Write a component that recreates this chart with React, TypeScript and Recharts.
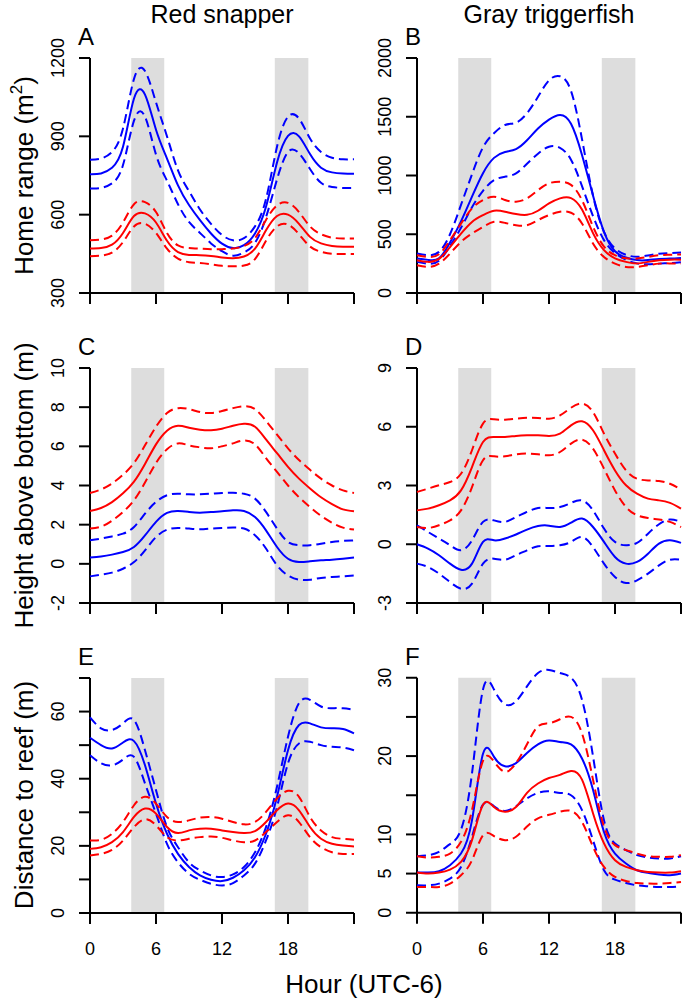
import { LineChart, Line, XAxis, YAxis, ReferenceArea, ReferenceLine } from "recharts"

const FONT = "'Liberation Sans', Arial, Helvetica, sans-serif"
const BLUE = "#0000ff"
const RED = "#ff0000"
const SHADE = "#dddddd"

// hours of the day (UTC-6)
const hours = [0, 1, 2, 3, 4, 5, 6, 7, 8, 9, 10, 11, 12, 13, 14, 15, 16, 17, 18, 19, 20, 21, 22, 23, 24]
const xTicks = [0, 6, 12, 18, 24]
const dawn = [3.75, 6.75]
const dusk = [16.8, 19.85]

// A: red snapper, home range (m^2)
const aBlue = [755, 758, 780, 860, 1045, 1060, 925, 815, 712, 637, 579, 528, 489, 472, 483, 528, 630, 800, 902, 900, 832, 780, 762, 758, 757]
const aBlueUp = [810, 815, 840, 930, 1120, 1150, 1030, 900, 770, 690, 620, 565, 522, 502, 510, 555, 660, 860, 975, 968, 892, 840, 818, 812, 812]
const aBlueLo = [700, 702, 720, 790, 960, 975, 830, 730, 640, 572, 530, 490, 460, 443, 455, 492, 590, 735, 840, 835, 775, 722, 706, 702, 702]
const aRed = [470, 472, 485, 530, 595, 605, 570, 500, 457, 446, 445, 442, 436, 433, 440, 470, 540, 595, 600, 565, 515, 490, 480, 477, 477]
const aRedUp = [502, 505, 520, 570, 640, 648, 610, 530, 482, 472, 470, 468, 468, 470, 480, 510, 580, 635, 645, 610, 555, 525, 512, 509, 509]
const aRedLo = [441, 443, 455, 495, 555, 565, 530, 470, 432, 418, 415, 410, 404, 402, 405, 430, 500, 555, 562, 525, 478, 458, 450, 449, 449]

// B: gray triggerfish, home range (m^2)
const bBlue = [293, 282, 295, 430, 610, 820, 1020, 1150, 1200, 1225, 1300, 1400, 1475, 1515, 1440, 1175, 830, 520, 355, 302, 280, 280, 290, 293, 298]
const bBlueUp = [336, 322, 350, 500, 750, 1010, 1240, 1360, 1430, 1450, 1530, 1670, 1810, 1845, 1720, 1310, 830, 520, 380, 325, 308, 320, 335, 340, 344]
const bBlueLo = [265, 250, 275, 400, 555, 730, 870, 960, 990, 1018, 1100, 1185, 1245, 1235, 1135, 910, 655, 450, 340, 282, 252, 245, 250, 255, 262]
const bRed = [279, 265, 290, 390, 505, 605, 663, 700, 692, 672, 665, 700, 762, 805, 808, 710, 510, 365, 295, 265, 252, 265, 279, 284, 284]
const bRedUp = [322, 307, 330, 449, 590, 720, 790, 820, 792, 777, 805, 875, 933, 947, 920, 790, 565, 395, 322, 295, 293, 307, 322, 325, 328]
const bRedLo = [236, 222, 250, 336, 435, 506, 563, 606, 597, 577, 577, 620, 663, 691, 683, 592, 421, 307, 250, 222, 222, 236, 250, 252, 252]

// C: red snapper, height above bottom (m)
const cBlue = [0.32, 0.38, 0.47, 0.6, 0.86, 1.45, 2.14, 2.6, 2.7, 2.65, 2.61, 2.65, 2.68, 2.73, 2.7, 2.39, 1.71, 0.86, 0.26, 0.09, 0.13, 0.18, 0.21, 0.26, 0.32]
const cBlueUp = [1.2, 1.29, 1.4, 1.54, 1.88, 2.56, 3.16, 3.5, 3.58, 3.55, 3.55, 3.58, 3.62, 3.63, 3.58, 3.33, 2.65, 1.8, 1.12, 0.95, 0.95, 1.03, 1.12, 1.17, 1.2]
const cBlueLo = [-0.64, -0.55, -0.45, -0.25, 0.09, 0.69, 1.37, 1.74, 1.83, 1.8, 1.76, 1.8, 1.83, 1.85, 1.8, 1.46, 0.78, -0.08, -0.59, -0.81, -0.81, -0.72, -0.67, -0.64, -0.6]
const cRed = [2.7, 2.85, 3.15, 3.6, 4.2, 5.1, 6.1, 6.8, 7.05, 6.95, 6.85, 6.82, 6.9, 7.05, 7.15, 7.0, 6.35, 5.65, 4.95, 4.35, 3.85, 3.4, 3.05, 2.78, 2.68]
const cRedUp = [3.62, 3.8, 4.1, 4.55, 5.15, 6.05, 7.0, 7.7, 7.95, 7.9, 7.75, 7.7, 7.8, 7.95, 8.05, 7.9, 7.3, 6.6, 5.9, 5.3, 4.8, 4.35, 4.0, 3.75, 3.62]
const cRedLo = [1.8, 1.9, 2.2, 2.65, 3.25, 4.15, 5.15, 5.85, 6.15, 6.05, 5.95, 5.9, 6.0, 6.15, 6.3, 6.1, 5.4, 4.7, 4.0, 3.4, 2.9, 2.45, 2.1, 1.85, 1.75]

// D: gray triggerfish, height above bottom (m)
const dBlue = [0.0, -0.22, -0.56, -0.99, -1.3, -0.99, 0.12, 0.2, 0.29, 0.5, 0.75, 0.93, 0.95, 0.88, 1.1, 1.31, 0.88, 0.12, -0.65, -0.99, -0.9, -0.48, 0.03, 0.2, 0.07]
const dBlueUp = [0.97, 0.63, 0.29, -0.05, -0.31, 0.2, 1.14, 1.22, 1.14, 1.39, 1.65, 1.85, 1.85, 1.9, 2.11, 2.24, 1.73, 0.8, 0.12, -0.05, 0.07, 0.54, 1.02, 1.26, 1.14]
const dBlueLo = [-0.99, -1.16, -1.5, -1.93, -2.27, -2.01, -0.99, -0.74, -0.79, -0.56, -0.31, -0.1, -0.09, -0.05, 0.12, 0.37, -0.14, -0.99, -1.67, -1.98, -1.84, -1.5, -1.08, -0.79, -0.79]
const dRed = [1.73, 1.82, 1.99, 2.24, 2.75, 3.94, 5.22, 5.48, 5.48, 5.53, 5.56, 5.56, 5.53, 5.65, 6.07, 6.28, 5.82, 4.8, 3.77, 3.01, 2.58, 2.33, 2.24, 2.11, 1.82]
const dRedUp = [2.67, 2.84, 3.01, 3.18, 3.6, 4.8, 6.16, 6.38, 6.36, 6.41, 6.46, 6.45, 6.41, 6.58, 6.97, 7.18, 6.75, 5.65, 4.63, 3.77, 3.35, 3.26, 3.23, 3.09, 2.79]
const dRedLo = [0.88, 0.83, 0.97, 1.22, 1.73, 2.92, 4.29, 4.49, 4.49, 4.59, 4.63, 4.59, 4.54, 4.71, 5.14, 5.34, 4.88, 3.86, 2.75, 1.9, 1.48, 1.34, 1.26, 1.14, 0.88]

// E: red snapper, distance to reef (m)
const eBlue = [52.2, 50.0, 49.0, 50.8, 51.2, 44.0, 32.6, 23.6, 17.6, 13.7, 11.2, 9.9, 9.5, 10.5, 12.7, 16.6, 23.6, 34.6, 48.5, 56.0, 56.5, 55.3, 55.0, 54.8, 53.5]
const eBlueUp = [58.3, 55.0, 54.5, 56.5, 57.5, 48.5, 36.6, 25.6, 19.6, 15.1, 12.7, 11.2, 10.7, 11.5, 13.7, 18.1, 25.6, 37.6, 52.5, 62.5, 63.5, 61.5, 61.0, 61.0, 60.5]
const eBlueLo = [47.0, 44.6, 44.0, 45.7, 46.5, 38.6, 29.6, 20.6, 15.1, 11.7, 9.9, 8.7, 8.2, 8.9, 11.2, 14.7, 21.6, 31.6, 44.6, 50.5, 51.0, 50.0, 49.5, 49.3, 48.5]
const eRed = [19.1, 19.6, 21.1, 24.1, 28.6, 31.1, 29.6, 25.6, 23.8, 24.6, 25.1, 25.1, 24.6, 24.1, 23.8, 24.4, 27.1, 30.6, 32.6, 30.6, 25.6, 22.1, 20.6, 20.1, 19.8]
const eRedUp = [21.6, 21.8, 23.6, 27.1, 32.1, 34.6, 32.6, 28.6, 27.1, 27.6, 28.4, 28.6, 28.1, 27.1, 26.4, 27.1, 30.1, 34.1, 36.4, 34.6, 28.6, 24.6, 22.6, 22.1, 21.8]
const eRedLo = [17.1, 17.6, 18.8, 21.6, 25.6, 27.9, 26.1, 22.6, 21.6, 22.1, 22.6, 22.8, 22.4, 21.6, 21.1, 21.6, 24.1, 27.1, 29.1, 27.1, 22.6, 19.6, 18.1, 17.6, 17.6]

// F: gray triggerfish, distance to reef (m)
const fBlue = [5.13, 5.13, 5.3, 6.07, 7.56, 11.8, 20.3, 19.9, 18.7, 19.1, 20.4, 21.5, 22.0, 21.8, 21.5, 19.7, 15.7, 10.3, 7.56, 6.28, 5.43, 5.09, 4.87, 4.79, 5.0]
const fBlueUp = [7.22, 7.35, 7.78, 8.76, 10.6, 17.8, 28.5, 28.5, 26.6, 27.0, 28.9, 30.6, 31.0, 30.6, 30.0, 27.2, 20.0, 11.8, 8.85, 8.0, 7.35, 7.05, 6.92, 6.92, 7.22]
const fBlueLo = [3.5, 3.5, 3.72, 4.36, 5.85, 9.7, 13.8, 13.6, 13.0, 13.6, 14.6, 15.3, 15.5, 15.3, 15.0, 13.1, 9.27, 5.43, 4.23, 3.8, 3.5, 3.38, 3.29, 3.29, 3.38]
const fRed = [5.13, 5.0, 5.13, 5.51, 6.5, 9.27, 13.8, 13.5, 12.9, 13.5, 15.3, 16.5, 17.2, 17.6, 18.1, 17.0, 12.7, 8.85, 6.71, 5.85, 5.43, 5.21, 5.13, 5.13, 5.3]
const fRedUp = [7.22, 7.05, 7.14, 7.56, 9.06, 13.1, 19.4, 19.3, 18.0, 19.1, 21.5, 23.8, 24.2, 24.7, 25.0, 22.9, 17.0, 11.0, 8.63, 8.0, 7.56, 7.22, 7.14, 7.14, 7.35]
const fRedLo = [3.29, 3.29, 3.29, 3.72, 4.79, 6.71, 9.9, 9.79, 9.27, 9.7, 11.0, 12.05, 12.5, 12.9, 13.0, 11.6, 8.42, 5.85, 4.57, 4.06, 3.8, 3.72, 3.72, 3.8, 3.93]

type Panel = {
  letter: string
  col: number
  row: number
  yMin: number
  yMax: number
  yTop: number
  yTicks: number[]
  yBlank: number[]
  series: number[][]
}

const panels: Panel[] = [
  { letter: "A", col: 0, row: 0, yMin: 300, yMax: 1200, yTop: 1200, yTicks: [300, 600, 900, 1200], yBlank: [], series: [aBlue, aBlueUp, aBlueLo, aRed, aRedUp, aRedLo] },
  { letter: "B", col: 1, row: 0, yMin: 0, yMax: 2000, yTop: 2000, yTicks: [0, 500, 1000, 1500, 2000], yBlank: [], series: [bBlue, bBlueUp, bBlueLo, bRed, bRedUp, bRedLo] },
  { letter: "C", col: 0, row: 1, yMin: -2, yMax: 10, yTop: 10, yTicks: [-2, 0, 2, 4, 6, 8, 10], yBlank: [], series: [cBlue, cBlueUp, cBlueLo, cRed, cRedUp, cRedLo] },
  { letter: "D", col: 1, row: 1, yMin: -3, yMax: 9, yTop: 9, yTicks: [-3, 0, 3, 6, 9], yBlank: [], series: [dBlue, dBlueUp, dBlueLo, dRed, dRedUp, dRedLo] },
  { letter: "E", col: 0, row: 2, yMin: 0, yMax: 70, yTop: 70, yTicks: [0, 10, 20, 30, 40, 50, 60, 70], yBlank: [10, 30, 50, 70], series: [eBlue, eBlueUp, eBlueLo, eRed, eRedUp, eRedLo] },
  { letter: "F", col: 1, row: 2, yMin: 0, yMax: 30, yTop: 31.5, yTicks: [0, 5, 10, 15, 20, 25, 30], yBlank: [15, 25], series: [fBlue, fBlueUp, fBlueLo, fRed, fRedUp, fRedLo] },
]

const keys = ["blue", "blueUp", "blueLo", "red", "redUp", "redLo"]
const colLeft = [90, 417]
const rowTop = [58, 368, 678]
const PW = 264
const PH = 235
const MT = 58

const RotTick = (props: any) => {
  const { x, y, payload, blank } = props
  if (blank.includes(payload.value)) return <g />
  return (
    <text transform={`translate(${x},${y}) rotate(-90)`} textAnchor="middle" fontSize={18} fontFamily={FONT} fill="#000">
      {payload.value}
    </text>
  )
}

function PanelChart({ p }: { p: Panel }) {
  const data = hours.map((h, i) => {
    const row: any = { hour: h }
    keys.forEach((k, j) => (row[k] = p.series[j][i]))
    return row
  })
  const extra = (PH * (p.yTop - p.yMax)) / (p.yMax - p.yMin)
  const bottomRow = p.row === 2
  const dash = "9 5"
  return (
    <div style={{ position: "absolute", left: colLeft[p.col] - 90, top: rowTop[p.row] - MT - extra }}>
      <LineChart width={90 + PW + 10} height={MT + extra + PH + 50} data={data} margin={{ top: MT, right: 10, bottom: 0, left: 0 }}>
        <ReferenceArea x1={dawn[0]} x2={dawn[1]} y1={p.yMin} y2={p.yMax} fill={SHADE} fillOpacity={1} stroke="none" />
        <ReferenceArea x1={dusk[0]} x2={dusk[1]} y1={p.yMin} y2={p.yMax} fill={SHADE} fillOpacity={1} stroke="none" />
        <XAxis
          dataKey="hour"
          type="number"
          domain={[0, 24]}
          ticks={xTicks}
          interval={0}
          height={50}
          tickSize={11}
          tickMargin={18}
          axisLine={{ stroke: "#000", strokeWidth: 2 }}
          tickLine={{ stroke: "#000", strokeWidth: 2 }}
          tick={{ fill: "#000", fontSize: 18, fontFamily: FONT }}
          tickFormatter={(v: number) => (bottomRow && v !== 24 ? String(v) : "")}
        />
        <YAxis
          type="number"
          domain={[p.yMin, p.yTop]}
          ticks={p.yTicks}
          interval={0}
          width={90}
          tickSize={11}
          tickMargin={15.5}
          axisLine={false}
          tickLine={{ stroke: "#000", strokeWidth: 2 }}
          tick={(t: any) => <RotTick {...t} blank={p.yBlank} />}
        />
        <ReferenceLine segment={[{ x: 0, y: p.yMin }, { x: 0, y: p.yMax }]} stroke="#000" strokeWidth={2} />
        <Line type="natural" dataKey="blueUp" stroke={BLUE} strokeWidth={2} strokeDasharray={dash} dot={false} activeDot={false} isAnimationActive={false} />
        <Line type="natural" dataKey="blueLo" stroke={BLUE} strokeWidth={2} strokeDasharray={dash} dot={false} activeDot={false} isAnimationActive={false} />
        <Line type="natural" dataKey="blue" stroke={BLUE} strokeWidth={2} dot={false} activeDot={false} isAnimationActive={false} />
        <Line type="natural" dataKey="redUp" stroke={RED} strokeWidth={2} strokeDasharray={dash} dot={false} activeDot={false} isAnimationActive={false} />
        <Line type="natural" dataKey="redLo" stroke={RED} strokeWidth={2} strokeDasharray={dash} dot={false} activeDot={false} isAnimationActive={false} />
        <Line type="natural" dataKey="red" stroke={RED} strokeWidth={2} dot={false} activeDot={false} isAnimationActive={false} />
      </LineChart>
    </div>
  )
}

const yTitles = [
  { text: "Home range (m", sup: "2", y: 175.5 },
  { text: "Height above bottom (m)", sup: "", y: 485.5 },
  { text: "Distance to reef (m)", sup: "", y: 795 },
]

export default function App() {
  return (
    <div style={{ position: "absolute", left: 0, top: 0, width: 685, height: 1004, background: "#fff", overflow: "hidden" }}>
      {panels.map((p) => (
        <PanelChart key={p.letter} p={p} />
      ))}
      <svg width={685} height={1004} style={{ position: "absolute", left: 0, top: 0, pointerEvents: "none" }} fontFamily={FONT} fill="#000">
        <text x={222} y={23} fontSize={25} textAnchor="middle">Red snapper</text>
        <text x={549} y={23} fontSize={25} textAnchor="middle">Gray triggerfish</text>
        {panels.map((p) => (
          <text key={p.letter} x={colLeft[p.col] - 12} y={rowTop[p.row] - 13} fontSize={24}>
            {p.letter}
          </text>
        ))}
        {yTitles.map((t) => (
          <text key={t.text} transform={`translate(33,${t.y}) rotate(-90)`} fontSize={26} textAnchor="middle">
            {t.text}
            {t.sup ? (
              <>
                <tspan dy={-11} fontSize={17}>{t.sup}</tspan>
                <tspan dy={11}>)</tspan>
              </>
            ) : null}
          </text>
        ))}
        <text x={364} y={993} fontSize={26} textAnchor="middle">Hour (UTC-6)</text>
      </svg>
    </div>
  )
}
